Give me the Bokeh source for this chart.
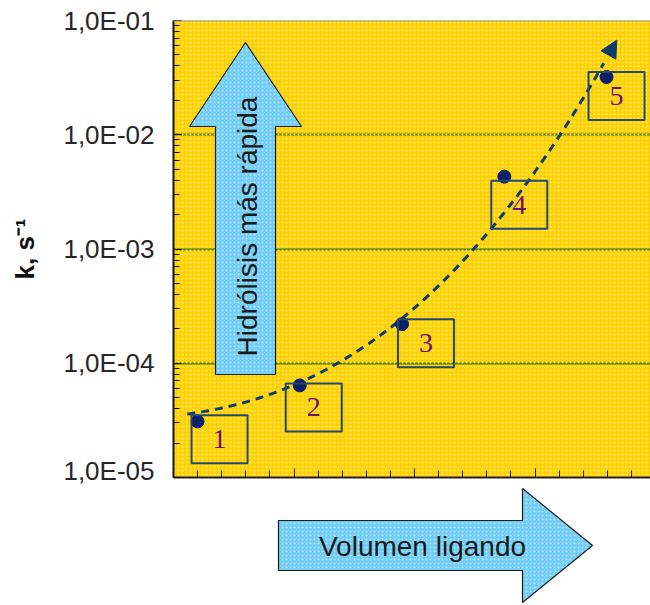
import numpy as np
from bokeh.plotting import figure
from bokeh.models import (Range1d, FixedTicker, CustomJSTickFormatter, Arrow, NormalHead,
                          BoxAnnotation, Span, ColumnDataSource, LinearScale)
from bokeh.layouts import column
from bokeh.embed import file_html
from bokeh.resources import INLINE
from bokeh.core.properties import value

# ---------------- data ----------------
sample_ids = [1, 2, 3, 4, 5]
sample_labels = ["1", "2", "3", "4", "5"]
k_values = [3.1e-5, 6.4e-5, 2.2e-4, 4.3e-3, 3.2e-2]
y_ticks = [1e-5, 1e-4, 1e-3, 1e-2, 1e-1]
y_tick_labels = ["1,0E-05", "1,0E-04", "1,0E-03", "1,0E-02", "1,0E-01"]
y_axis_title = "k, s\u207b\u00b9"
up_arrow_text = "Hidrólisis más rápida"
right_arrow_text = "Volumen ligando"

# ---------------- layout / style ----------------
label_dx = [22, 14, 24, 15, 10]
label_dy = [18, 22, 19, 28, 19]
X_MIN, X_MAX = 0.765, 5.430
TICK_STEP = 0.2357
TREND_POWER = 2.5
SANS = "Liberation Sans"
SERIF = "Liberation Serif"
YELLOW = "#FFCF00"
YELLOW_DOT = "#FFEC7A"
BLUE = "#6FCDF6"
BLUE_DOT = "#B4E5FB"
NAVY = "#0D1F6B"
CURVE = "#0F3C6E"
BOXC = "#204B6C"
GRID = "#4E7F00"
FL, FT, FW, FH = 173, 20, 477, 457   # frame left/top/width/height in page pixels

# ---------------- main figure ----------------
p = figure(width=FL + FW, height=FT + FH + 8, frame_width=FW, frame_height=FH,
           x_range=Range1d(X_MIN, X_MAX), y_range=Range1d(y_ticks[0], y_ticks[-1]),
           y_axis_type="log", toolbar_location=None, output_backend="svg",
           min_border_left=FL, min_border_right=0, min_border_top=FT, min_border_bottom=8)
p.extra_x_ranges = {"px": Range1d(FL, FL + FW)}
p.extra_y_ranges = {"px": Range1d(FT + FH, FT)}
p.extra_x_scales = {"px": LinearScale()}
p.extra_y_scales = {"px": LinearScale()}
p.background_fill_color = YELLOW
p.outline_line_color = None
p.add_layout(BoxAnnotation(fill_alpha=0, line_alpha=0, hatch_pattern="dot",
                           hatch_color=YELLOW_DOT, hatch_scale=4, hatch_weight=1.2,
                           level="underlay"))

# grid: only interior decades
p.xgrid.visible = False
p.ygrid.ticker = FixedTicker(ticks=y_ticks[1:-1])
p.ygrid.grid_line_color = GRID
p.ygrid.grid_line_width = 2

# y axis
minor_y = [m * t for t in y_ticks[:-1] for m in range(2, 10)]
yax = p.yaxis[0]
yax.ticker = FixedTicker(ticks=y_ticks, minor_ticks=minor_y)
yax.formatter = CustomJSTickFormatter(args=dict(tvals=y_ticks, tlabels=y_tick_labels), code="""
let best = 0, bd = Infinity;
for (let i = 0; i < tvals.length; i++) {
  const d = Math.abs(Math.log10(tick) - Math.log10(tvals[i]));
  if (d < bd) { bd = d; best = i; }
}
return tlabels[best];
""")
yax.major_label_text_font = SANS
yax.major_label_text_font_size = "26px"
yax.major_label_text_color = "#262626"
yax.major_label_standoff = 19
yax.axis_label = y_axis_title
yax.axis_label_text_font = SANS
yax.axis_label_text_font_style = "bold"
yax.axis_label_text_font_size = "26px"
yax.axis_label_text_color = "#111111"
yax.axis_label_standoff = 20
yax.axis_line_color = "#111111"
yax.axis_line_width = 2
yax.major_tick_in = 8
yax.major_tick_out = 0
yax.minor_tick_in = 6
yax.minor_tick_out = 0
yax.major_tick_line_color = "#111111"
yax.minor_tick_line_color = "#111111"

# x axis (no labels, inward ticks)
all_x = [float(v) for v in np.arange(X_MIN, X_MAX, TICK_STEP)]
major_x = all_x[::5]
xax = p.xaxis[0]
xax.ticker = FixedTicker(ticks=major_x, minor_ticks=all_x)
xax.formatter = CustomJSTickFormatter(code="return '';")
xax.major_label_standoff = 0
xax.axis_line_color = "#222222"
xax.axis_line_width = 2
xax.major_tick_in = 9
xax.major_tick_out = 0
xax.minor_tick_in = 7
xax.minor_tick_out = 0
xax.major_tick_line_color = "#222222"
xax.minor_tick_line_color = "#222222"

# top border
p.add_layout(Span(location=y_ticks[-1], dimension="width", line_color="#A0A0A0", line_width=2))

# big vertical arrow (decoration, page-pixel coordinates)
ucx, utip, uhead, uhh, ush, ubase = 245, 42, 126, 56, 30, 374
p.patch(x=[ucx - ush, ucx - ush, ucx - uhh, ucx, ucx + uhh, ucx + ush, ucx + ush],
        y=[ubase, uhead, uhead, utip, uhead, uhead, ubase],
        x_range_name="px", y_range_name="px",
        fill_color=BLUE, hatch_pattern="dot", hatch_color=BLUE_DOT, hatch_scale=4,
        hatch_weight=1.2, line_color="#1a1a1a", line_width=1.2)
p.text(x=[ucx + 2], y=[226], text=[up_arrow_text], angle=np.pi / 2,
       x_range_name="px", y_range_name="px",
       text_font=value(SANS), text_font_size="28px", text_color="#1a1a1a",
       text_align="center", text_baseline="middle")

# trend curve: least-squares fit of log10(k) = a + b * x**TREND_POWER
coef = np.polyfit(np.power(sample_ids, TREND_POWER), np.log10(k_values), 1)
xc = np.linspace(0.9, 5.1, 200)
yc = 10 ** np.polyval(coef, np.power(xc, TREND_POWER))
p.line(xc[:-6], yc[:-6], line_color=CURVE, line_width=3, line_dash="8 6")
p.add_layout(Arrow(end=NormalHead(size=17, fill_color=CURVE, line_color=CURVE),
                   x_start=float(xc[-8]), y_start=float(yc[-8]),
                   x_end=float(xc[-1]), y_end=float(yc[-1]), line_alpha=0))

# points
src = ColumnDataSource(dict(x=sample_ids, y=k_values, label=sample_labels,
                            dx=label_dx, dy=label_dy))
p.scatter("x", "y", source=src, size=13, color=NAVY)

# numbered boxes
p.text("x", "y", text="label", source=src, x_offset="dx", y_offset="dy",
       text_font=value(SERIF), text_font_size="28px", text_color="#6E1070",
       text_align="center", text_baseline="middle",
       border_line_color=BOXC, border_line_width=2,
       padding=dict(left=21, right=21, top=15, bottom=15))

# ---------------- bottom arrow figure ----------------
top2 = FT + FH + 8
q = figure(width=FL + FW, height=605 - top2, frame_width=FW, frame_height=605 - top2,
           x_range=Range1d(FL, FL + FW), y_range=Range1d(605, top2),
           toolbar_location=None, output_backend="svg",
           x_axis_location=None, y_axis_location=None,
           min_border_left=FL, min_border_right=0, min_border_top=0, min_border_bottom=0)
q.grid.visible = False
q.outline_line_color = None
rcy, rleft, rhead, rtip, rhh, rsh = 545, 278, 522, 592, 57, 25
q.patch(x=[rleft, rhead, rhead, rtip, rhead, rhead, rleft],
        y=[rcy - rsh, rcy - rsh, rcy - rhh, rcy, rcy + rhh, rcy + rsh, rcy + rsh],
        fill_color=BLUE, hatch_pattern="dot", hatch_color=BLUE_DOT, hatch_scale=4,
        hatch_weight=1.2, line_color="#1a1a1a", line_width=1.2)
q.text(x=[422], y=[rcy + 1], text=[right_arrow_text],
       text_font=value(SANS), text_font_size="28px", text_color="#1a1a1a",
       text_align="center", text_baseline="middle")

layout = column(p, q, spacing=0)
open("out.html", "w").write(file_html(layout, INLINE))
